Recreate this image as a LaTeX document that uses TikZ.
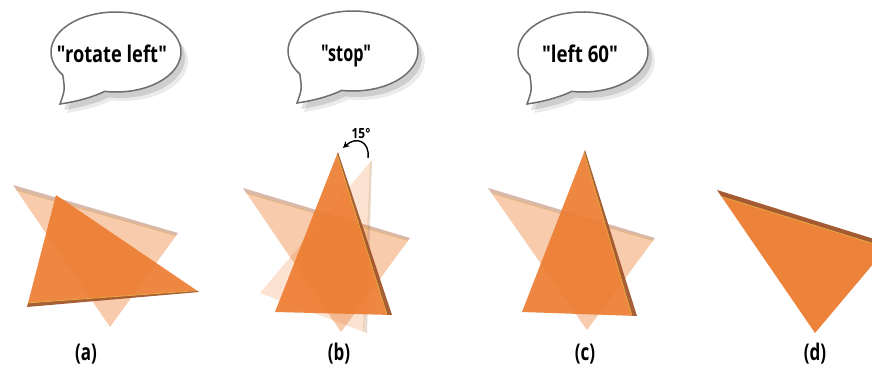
\documentclass[tikz,border=0pt]{standalone}
\usepackage{fontspec}
\newfontfamily\osans{Open Sans}
\usetikzlibrary{calc,arrows.meta}
\definecolor{orM}{RGB}{237,125,49}
\definecolor{bandC}{RGB}{160,82,40}
\definecolor{yelC}{RGB}{232,172,62}
\definecolor{bubEdge}{RGB}{110,110,110}
\newcommand{\plate}[6]{%
  \path #1 coordinate (p1) #2 coordinate (p2) #3 coordinate (p3);
  \coordinate (p1i) at ($(p1)!#4!(p3)$);
  \coordinate (p2i) at ($(p2)!#5!(p3)$);
  \fill[orM, fill opacity=#6] (p1i) -- (p2i) -- (p3) -- cycle;
  \fill[bandC, fill opacity=#6] (p1) -- (p2) -- (p2i) -- (p1i) -- cycle;
  \draw[yelC, line width=0.8pt, draw opacity=#6] (p1i) -- (p2i);
}
\newcommand{\bubpath}{(100:65 and 40) arc[start angle=100, end angle=-215, x radius=65, y radius=40] .. controls (-51,38) .. (-56,52) .. controls (-42,50) and (-25,46) .. cycle}
\newcommand{\bubtxt}[2]{\resizebox{#1}{\height}{\osans\bfseries\fontsize{23}{27}\selectfont #2}}
\newcommand{\bubble}[6]{%
  \begin{scope}[shift={(#1,#2)}]
    \fill[black, fill opacity=0.08] [shift={(7,9)}] \bubpath;
    \fill[black, fill opacity=0.12] [shift={(4,6)}] \bubpath;
    \filldraw[fill=white, draw=bubEdge, line width=1.5pt] \bubpath;
    \node[anchor=base, inner sep=0pt, text=black] (#4) at (#6,11) {\bubtxt{#5}{#3}};
  \end{scope}
}
\newcommand{\labtxt}[1]{\scalebox{0.74}[1]{\osans\bfseries\fontsize{23}{27}\selectfont #1}}
\begin{document}
\begin{tikzpicture}[x=1pt, y=-1pt,
  lab/.style={anchor=base, inner sep=0pt, text=black},
  deg/.style={inner sep=0pt, text=black}]
\useasboundingbox (0,0) rectangle (872,371);
\clip (0,0) rectangle (872,371);
\fill[white] (0,0) rectangle (872,371);

% speech bubbles
\bubble{116}{52}{"rotate left"}{tA}{110pt}{-4}
\bubble{353}{51}{"stop"}{tB}{50pt}{-7}
\bubble{583}{52}{"left 60"}{tC}{76pt}{-3}

% (a)
\plate{(13,185)}{(178,233)}{(110,327)}{6.4pt}{3.2pt}{0.4}
\plate{(27,307)}{(199,292)}{(56,195)}{4.2pt}{2.5pt}{0.92}

% (b)
\plate{(243,188)}{(410,238)}{(341,332)}{6.4pt}{3.2pt}{0.4}
\plate{(367,333)}{(372,160)}{(260,293)}{4pt}{2.5pt}{0.22}
\plate{(392,315)}{(338,152)}{(275,312)}{5pt}{2.5pt}{0.92}

% (c)
\plate{(488,188)}{(655,238)}{(587,330)}{6.4pt}{3.2pt}{0.4}
\plate{(637,316)}{(585,150)}{(522,312)}{5pt}{2.5pt}{0.92}

% (d)
\plate{(717,190)}{(890,244)}{(815,333)}{8pt}{5pt}{0.95}

% 15 degree arrow
\coordinate (arS) at (368,158);
\coordinate (arE) at (343,148);
\draw[line width=1.4pt, -{Stealth[length=6.5pt, width=6.5pt]}] (arS) .. controls (370,141) and (356,136) .. (arE);
\node[deg] (dg) at (361,134) {\scalebox{0.85}[1]{\osans\bfseries\fontsize{14}{16}\selectfont 15°}};

% labels
\node[lab] (la) at (86,360) {\labtxt{(a)}};
\node[lab] (lb) at (339,360) {\labtxt{(b)}};
\node[lab] (lc) at (585,360) {\labtxt{(c)}};
\node[lab] (ld) at (815,360) {\labtxt{(d)}};
\end{tikzpicture}
\end{document}
